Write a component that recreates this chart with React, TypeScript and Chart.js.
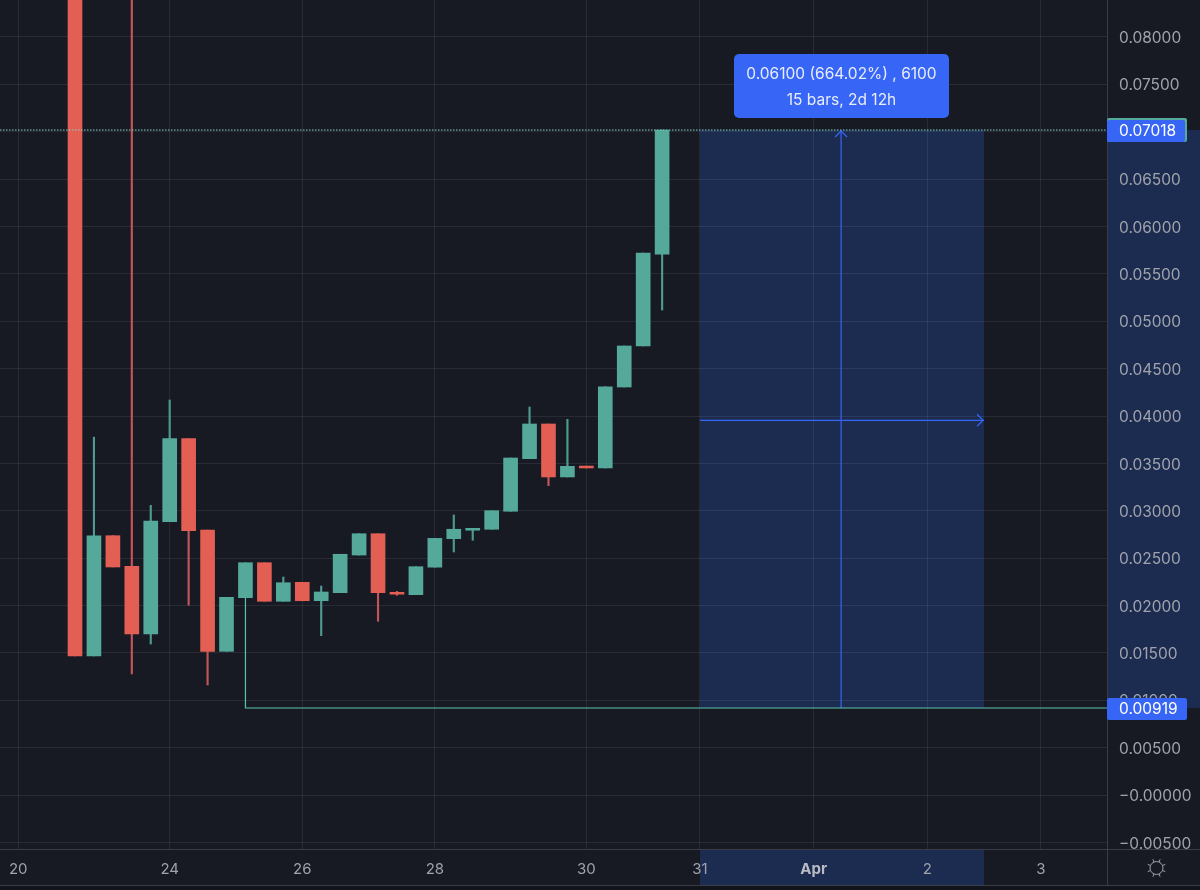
import React, { useEffect, useRef } from "react";
import { Chart, registerables } from "chart.js";

Chart.register(...registerables);

const barIndex = Array.from({ length: 32 }, (_, i) => i);
const opens = [0.09, 0.01468, 0.02737, 0.02414, 0.017, 0.02885, 0.03761, 0.02797, 0.01517, 0.02083, 0.02452, 0.02045, 0.02245, 0.02051, 0.02136, 0.02533, 0.02758, 0.0214, 0.02115, 0.02405, 0.02706, 0.02795, 0.02805, 0.02995, 0.0355, 0.03916, 0.03357, 0.03472, 0.03451, 0.04306, 0.04739, 0.05709];
const closes = [0.01468, 0.02737, 0.02407, 0.017, 0.02892, 0.03761, 0.0279, 0.01517, 0.02087, 0.02452, 0.02045, 0.02241, 0.02051, 0.02143, 0.02541, 0.02758, 0.02136, 0.0212, 0.0241, 0.02709, 0.02805, 0.02815, 0.03001, 0.03557, 0.03916, 0.03357, 0.03469, 0.03452, 0.04309, 0.04739, 0.0572, 0.07018];
const highs = [0.09, 0.03777, 0.02737, 0.09, 0.03058, 0.04169, 0.03761, 0.02797, 0.02087, 0.02452, 0.02452, 0.02301, 0.02245, 0.02206, 0.02541, 0.02758, 0.02758, 0.0215, 0.0241, 0.02709, 0.02956, 0.02815, 0.03001, 0.03557, 0.04095, 0.03916, 0.03965, 0.03472, 0.04309, 0.04739, 0.0572, 0.07018];
const lows = [0.01468, 0.01468, 0.02407, 0.01278, 0.01594, 0.02885, 0.02003, 0.01162, 0.01517, 0.02083, 0.02045, 0.02045, 0.02051, 0.01682, 0.02136, 0.02533, 0.01834, 0.02108, 0.02115, 0.02405, 0.02565, 0.02689, 0.02805, 0.02995, 0.0355, 0.03265, 0.03357, 0.03452, 0.03451, 0.04306, 0.04739, 0.05119];

const xTickIndex = [-3, 5, 12, 19, 27, 33, 39, 45, 51];
const xTickLabels = ["20", "24", "26", "28", "30", "31", "Apr", "2", "3"];
const yTicks = [-0.005, 0, 0.005, 0.01, 0.015, 0.02, 0.025, 0.03, 0.035, 0.04, 0.045, 0.05, 0.055, 0.06, 0.065, 0.07, 0.075, 0.08];

const X_MIN = -3.96;
const X_MAX = 54.49;
const Y_MIN = -0.00569;
const Y_MAX = 0.0839;

const measureFrom = 33;
const measureTo = 48;
const measureMidX = 40.45;
const priceLow = 0.00919;
const priceHigh = 0.07018;
const priceMid = 0.03955;
const anchorBar = 9;
const anchorPrice = 0.02083;

const BG = "#171a23";
const GRID = "rgba(255,255,255,0.075)";
const UP = "#54a99b";
const DOWN = "#e35f54";
const UP_WICK = "#4f9a90";
const DOWN_WICK = "#c4545a";
const BLUE = "#3765f5";
const BAND = "#1c2b50";
const TEXT = "#a0a3ab";
const FONT = "Inter";

const isApr = (c: any) => !!c.tick && xTickLabels[xTickIndex.indexOf(c.tick.value)] === "Apr";
const noPad = (s: any) => {
  s.paddingTop = 0;
  s.paddingBottom = 0;
  s.paddingLeft = 0;
  s.paddingRight = 0;
};

const drawPlugin = {
  id: "measure",
  beforeDraw(chart: any) {
    const { ctx, scales } = chart;
    const x = scales.x;
    const y = scales.y;
    const a = chart.chartArea;
    ctx.save();
    ctx.fillStyle = BG;
    ctx.fillRect(0, 0, chart.width, chart.height);
    ctx.fillStyle = "#12141b";
    ctx.fillRect(0, 885, chart.width, 5);
    ctx.fillStyle = BAND;
    const l = x.getPixelForValue(measureFrom);
    const r = x.getPixelForValue(measureTo);
    const t = y.getPixelForValue(priceHigh);
    const b = y.getPixelForValue(priceLow);
    ctx.fillRect(l, t, r - l, b - t);
    ctx.fillRect(a.right, t, chart.width - a.right, b - t);
    ctx.fillRect(l, a.bottom, r - l, 885 - a.bottom);
    ctx.restore();
  },
  afterDraw(chart: any) {
    const { ctx, scales } = chart;
    const x = scales.x;
    const y = scales.y;
    const a = chart.chartArea;
    ctx.save();
    ctx.strokeStyle = "#3a3d47";
    ctx.lineWidth = 1;
    ctx.beginPath();
    ctx.moveTo(a.right + 0.5, 0);
    ctx.lineTo(a.right + 0.5, 885);
    ctx.moveTo(0, a.bottom + 0.5);
    ctx.lineTo(chart.width, a.bottom + 0.5);
    ctx.moveTo(0, 885.5);
    ctx.lineTo(chart.width, 885.5);
    ctx.stroke();

    const mx = x.getPixelForValue(measureMidX);
    const t = y.getPixelForValue(priceHigh);
    const m = y.getPixelForValue(priceMid);
    const r = x.getPixelForValue(measureTo);
    ctx.strokeStyle = BLUE;
    ctx.lineWidth = 1.2;
    ctx.beginPath();
    ctx.moveTo(mx - 6, t + 7);
    ctx.lineTo(mx, t + 1);
    ctx.lineTo(mx + 6, t + 7);
    ctx.moveTo(r - 7, m - 6);
    ctx.lineTo(r - 1, m);
    ctx.lineTo(r - 7, m + 6);
    ctx.stroke();

    const roundBox = (bx: number, by: number, w: number, h: number, rad: number, c: string) => {
      ctx.fillStyle = c;
      ctx.beginPath();
      ctx.roundRect(bx, by, w, h, rad);
      ctx.fill();
    };
    roundBox(734, 54, 215, 64, 5, BLUE);
    ctx.fillStyle = "#e8edfb";
    ctx.font = `15.5px ${FONT}`;
    ctx.textAlign = "center";
    ctx.textBaseline = "middle";
    ctx.fillText("0.06100 (664.02%) , 6100", 841.5, 74);
    ctx.fillText("15 bars, 2d 12h", 841.5, 100);

    roundBox(a.right, 118, 80, 24, 2, UP);
    roundBox(a.right, 120, 78, 22, 2, BLUE);
    roundBox(a.right, 698, 80, 22, 2, BLUE);
    ctx.fillStyle = "#ffffff";
    ctx.font = `15.5px ${FONT}`;
    ctx.textAlign = "left";
    ctx.fillText(priceHigh.toFixed(5), 1119, 131);
    ctx.fillText(priceLow.toFixed(5), 1119, 709);

    const cx = 1156.5;
    const cy = 868;
    ctx.strokeStyle = TEXT;
    ctx.lineWidth = 1;
    ctx.beginPath();
    ctx.arc(cx, cy, 6.5, 0, Math.PI * 2);
    for (let i = 0; i < 8; i++) {
      const ang = (i * Math.PI) / 4 + Math.PI / 8;
      ctx.moveTo(cx + Math.cos(ang) * 6.5, cy + Math.sin(ang) * 6.5);
      ctx.lineTo(cx + Math.cos(ang) * 9.5, cy + Math.sin(ang) * 9.5);
    }
    ctx.stroke();
    ctx.restore();
  },
};

export default function App() {
  const ref = useRef<HTMLCanvasElement | null>(null);
  useEffect(() => {
    document.body.style.margin = "0";
    document.body.style.background = BG;
    const isUp = (i: number) => closes[i] >= opens[i];
    const chart = new Chart(ref.current as HTMLCanvasElement, {
      type: "bar",
      data: {
        datasets: [
          {
            type: "line",
            data: [{ x: X_MIN, y: priceHigh }, { x: X_MAX, y: priceHigh }],
            borderColor: "#86d3c6",
            borderWidth: 1.2,
            borderDash: [1.5, 1.5],
            pointRadius: 0,
            order: 0,
          },
          {
            type: "line",
            data: [{ x: anchorBar, y: anchorPrice }, { x: anchorBar, y: priceLow }, { x: X_MAX, y: priceLow }],
            borderColor: "#5cc2b0",
            borderWidth: 1.2,
            pointRadius: 0,
            order: 0,
          },
          {
            type: "line",
            data: [{ x: measureMidX, y: priceLow }, { x: measureMidX, y: priceHigh }],
            borderColor: BLUE,
            borderWidth: 1.2,
            pointRadius: 0,
            order: 0,
          },
          {
            type: "line",
            data: [{ x: measureFrom, y: priceMid }, { x: measureTo, y: priceMid }],
            borderColor: BLUE,
            borderWidth: 1.2,
            pointRadius: 0,
            order: 0,
          },
          {
            type: "bar",
            data: barIndex.map((i) => ({ x: i, y: [opens[i], closes[i]] })),
            backgroundColor: barIndex.map((i) => (isUp(i) ? UP : DOWN)),
            barThickness: 14,
            grouped: false,
            order: 1,
          },
          {
            type: "bar",
            data: barIndex.map((i) => ({ x: i, y: [lows[i], highs[i]] })),
            backgroundColor: barIndex.map((i) => (isUp(i) ? UP_WICK : DOWN_WICK)),
            barThickness: 1.5,
            grouped: false,
            order: 2,
          },
        ],
      } as any,
      options: {
        animation: false,
        responsive: false,
        devicePixelRatio: 1,
        layout: { padding: 0 },
        plugins: { legend: { display: false }, tooltip: { enabled: false } },
        scales: {
          x: {
            type: "linear",
            min: X_MIN,
            max: X_MAX,
            offset: false,
            afterBuildTicks(s: any) {
              s.ticks = xTickIndex.map((v) => ({ value: v }));
            },
            afterFit(s: any) {
              s.height = 41;
              noPad(s);
            },
            grid: { color: GRID, drawTicks: false, offset: false },
            border: { display: false },
            ticks: {
              autoSkip: false,
              maxRotation: 0,
              padding: 11,
              color: (c: any) => (isApr(c) ? "#b9bcc4" : TEXT),
              font: (c: any) => ({ family: FONT, size: 15, weight: isApr(c) ? "bold" : "normal" }),
              callback: (v: any) => xTickLabels[xTickIndex.indexOf(v)],
            },
          },
          y: {
            position: "right",
            min: Y_MIN,
            max: Y_MAX,
            afterBuildTicks(s: any) {
              s.ticks = yTicks.map((v) => ({ value: v }));
            },
            afterFit(s: any) {
              s.width = 93;
              noPad(s);
            },
            grid: { color: GRID, drawTicks: false },
            border: { display: false },
            ticks: {
              autoSkip: false,
              padding: 12,
              labelOffset: 1.5,
              color: TEXT,
              font: { family: FONT, size: 15.5 },
              callback: (v: any) => (v <= 0 ? "\u2212" + Math.abs(v).toFixed(5) : Number(v).toFixed(5)),
            },
          },
        },
      } as any,
      plugins: [drawPlugin],
    } as any);
    return () => chart.destroy();
  }, []);
  return <canvas ref={ref} width={1200} height={890} style={{ display: "block" }} />;
}
